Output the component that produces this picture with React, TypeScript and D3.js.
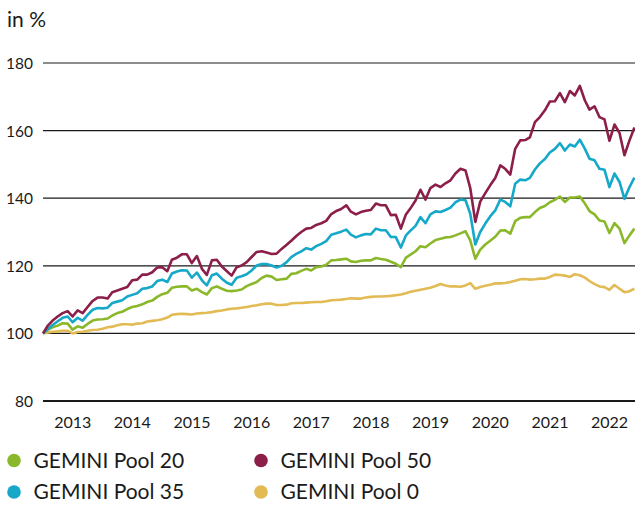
import { scaleLinear, scaleTime, line as d3_line, range } from "d3";

// Monatswerte (Monatsende), Start Dezember 2012 = 100
const pool20 = [
  100, 101.1, 101.8, 102.3, 103, 102.9, 101.1, 102.1, 101.7, 102.8, 103.8, 104.1, 104.2, 104.4, 105.3, 106, 106.4, 107.2, 107.8, 108.1,
  108.6, 109.3, 109.7, 110.8, 111.6, 112, 113.5, 113.8, 113.9, 113.9, 112.7, 113.2, 112.2, 111.5, 113.4, 113.9, 113.2, 112.6, 112.5, 112.7,
  113, 114, 114.6, 115.2, 116.4, 117.1, 116.8, 115.8, 116, 116.2, 117.6, 117.8, 118.5, 119.1, 118.6, 119.6, 119.8, 120.3, 121.6, 121.7,
  121.9, 122.1, 121.3, 121.1, 121.5, 121.6, 121.6, 122.3, 122, 121.8, 121.2, 120.6, 119.6, 122.4, 123.3, 124.3, 125.8, 125.5, 126.6, 127.6,
  128, 128.4, 128.5, 129, 129.6, 130.2, 127.5, 122.1, 124.8, 126.3, 127.4, 128.6, 130.4, 130.5, 129.5, 133.2, 134.2, 134.4, 134.4, 135.9,
  137.1, 137.7, 138.8, 139.5, 140.5, 138.9, 140.2, 140.2, 140.5, 138.4, 136.2, 135.2, 133.4, 133.1, 129.7, 132.6, 131, 126.7, 129, 131,
];

const pool35 = [
  100, 101.3, 102.5, 103.6, 104.6, 105, 103.3, 104.6, 103.8, 105.5, 107, 107.5, 107.4, 107.6, 109, 109.4, 109.8, 110.9, 111.4, 111.9,
  113.2, 113.4, 113.9, 115.5, 115.9, 115.2, 117.7, 118.3, 118.7, 118.6, 116.5, 118, 115.7, 114.2, 117.2, 117.7, 116.2, 115, 114.4, 116.5,
  116.9, 117.5, 118.6, 120.1, 120.5, 120.5, 120.1, 119.5, 120, 121.1, 122.6, 123.5, 124.3, 125.2, 124.8, 125.8, 126.5, 127.3, 129.2, 129.6,
  130.1, 130.7, 129.2, 128.4, 129, 129.4, 129.3, 131, 130.5, 130.5, 128.5, 128.5, 125.4, 129, 130.4, 131.8, 134.4, 132.6, 135.2, 136.1,
  135.9, 136.5, 137.2, 138.8, 139.6, 139.4, 135.4, 126.3, 130, 132.5, 134.6, 136.4, 139.6, 138.9, 137.6, 144.3, 145.5, 145.3, 146, 148.5,
  150.3, 151.6, 153.5, 154.6, 156.3, 154.1, 155.9, 155.3, 157.3, 154.6, 151.7, 151.2, 148.7, 148.4, 143.3, 147.3, 144.8, 139.8, 143.3, 146.1,
];

const pool50 = [
  100, 102.4, 103.8, 105, 106, 106.6, 105, 106.8, 106, 107.8, 109.6, 110.6, 110.6, 110.3, 112.2, 112.7, 113.2, 113.7, 115.7, 115.9,
  117.4, 117.4, 118.1, 119.5, 119.6, 118.4, 121.8, 122.4, 123.4, 123.4, 120.8, 122.9, 119.1, 117.3, 121.6, 121.8, 119.8, 118.4, 117.1, 119.6,
  120.1, 121.1, 122.6, 124.1, 124.3, 123.9, 123.5, 123.6, 125, 126.2, 127.4, 128.8, 130, 131, 131.2, 132.1, 132.6, 133.3, 135.3, 136.2,
  136.8, 137.9, 136, 135.2, 135.9, 136.3, 136.5, 138.4, 137.9, 137.9, 135, 135.1, 131, 135.2, 137, 139.3, 142.5, 139.6, 143, 144,
  143.3, 144.4, 145.3, 147.3, 148.7, 148.2, 143, 133, 139, 141.5, 143.8, 146, 149.7, 148.7, 147, 154.6, 157.1, 157.2, 158, 162.5,
  164, 166, 168.6, 168.7, 171.1, 168.4, 171.7, 170.4, 173.2, 168.9, 166.2, 167.2, 164, 163.3, 157, 161.8, 159.3, 152.7, 157.1, 160.9,
];

const pool0 = [
  100, 100.3, 100.5, 100.6, 100.8, 100.8, 100, 100.4, 100.5, 100.8, 101, 101.1, 101.4, 101.8, 102, 102.4, 102.7, 102.7, 102.6, 102.9,
  103, 103.5, 103.7, 103.9, 104.2, 104.7, 105.5, 105.7, 105.8, 105.7, 105.6, 105.9, 106, 106.1, 106.3, 106.6, 106.8, 107.1, 107.3, 107.4,
  107.6, 107.8, 108.1, 108.3, 108.6, 108.8, 108.8, 108.4, 108.4, 108.5, 108.9, 109, 109, 109.1, 109.2, 109.3, 109.3, 109.5, 109.8, 109.9,
  110, 110.2, 110.4, 110.3, 110.3, 110.6, 110.8, 110.9, 110.9, 111, 111.1, 111.3, 111.5, 111.9, 112.3, 112.6, 112.9, 113.2, 113.5, 114,
  114.6, 114.2, 113.9, 113.9, 113.8, 114.2, 114.9, 113.2, 113.7, 114.1, 114.4, 114.8, 114.8, 114.9, 115.2, 115.6, 116, 116.1, 115.9, 116,
  116.2, 116.2, 116.7, 117.4, 117.3, 117.1, 116.7, 117.5, 117.2, 116.5, 115.5, 114.6, 113.9, 113.7, 112.9, 114.3, 113.2, 112.2, 112.5, 113.2,
];

const yTicks = [80, 100, 120, 140, 160, 180];
const yearLabels = ["2013", "2014", "2015", "2016", "2017", "2018", "2019", "2020", "2021", "2022"];

const series = [
  { name: "GEMINI Pool 0", values: pool0, color: "#e2bb55" },
  { name: "GEMINI Pool 20", values: pool20, color: "#8ab82a" },
  { name: "GEMINI Pool 35", values: pool35, color: "#15a8c8" },
  { name: "GEMINI Pool 50", values: pool50, color: "#8c1f4a" },
];

// Legende: zwei Spalten
const legendOrder = ["GEMINI Pool 20", "GEMINI Pool 50", "GEMINI Pool 35", "GEMINI Pool 0"];

const W = 635;
const H = 506;
const FONT = "Lato, 'Open Sans', sans-serif";
const TEXT = "#1a1a1a";

// Monatsende: Dez 2012 ... Nov 2022
const dates = range(pool20.length).map((i) => new Date(2013, i, 0));

export default function App() {
  const x = scaleTime()
    .domain([dates[0], dates[dates.length - 1]])
    .range([43, 634.4]);

  const y = scaleLinear().domain([80, 180]).range([401, 63]);

  const lineGen = d3_line<number>()
    .x((_, i) => x(dates[i]))
    .y((d) => y(d));

  return (
    <svg
      width={W}
      height={H}
      style={{ position: "absolute", left: 0, top: 0, background: "#fff" }}
      fontFamily={FONT}
    >
      <text x={7} y={27} fontSize={21} fill={TEXT}>
        in %
      </text>

      {/* Gitterlinien */}
      {yTicks.map((v) => (
        <g key={v}>
          <line
            x1={43}
            x2={W}
            y1={y(v)}
            y2={y(v)}
            stroke={TEXT}
            strokeWidth={v === 80 ? 2 : 1.2}
          />
          <text
            x={33}
            y={y(v)}
            textAnchor="end"
            dominantBaseline="central"
            fontSize={15.5}
            fill={TEXT}
          >
            {v}
          </text>
        </g>
      ))}

      {/* Jahre */}
      {yearLabels.map((yr) => (
        <text
          key={yr}
          x={x(new Date(+yr, 6, 1))}
          y={428}
          textAnchor="middle"
          fontSize={16}
          fill={TEXT}
        >
          {yr}
        </text>
      ))}

      {/* Linien */}
      {series.map((s) => (
        <path
          key={s.name}
          d={lineGen(s.values) ?? ""}
          fill="none"
          stroke={s.color}
          strokeWidth={2.6}
          strokeLinejoin="round"
        />
      ))}

      {/* Legende */}
      {legendOrder.map((name, i) => {
        const s = series.find((d) => d.name === name)!;
        const col = i % 2;
        const row = Math.floor(i / 2);
        const lx = col === 0 ? 14 : 261;
        const ly = 460.5 + row * 31.5;
        return (
          <g key={name}>
            <circle cx={lx} cy={ly} r={6.8} fill={s.color} />
            <text x={lx + 19.5} y={ly + 7} fontSize={21} fill={TEXT}>
              {name}
            </text>
          </g>
        );
      })}
    </svg>
  );
}
